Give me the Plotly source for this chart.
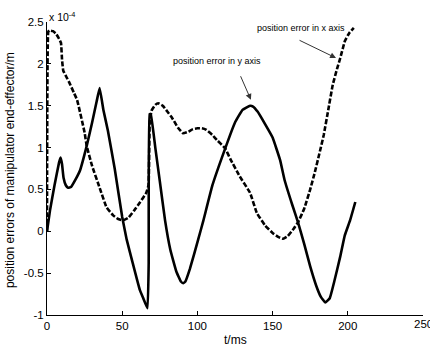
import plotly.graph_objects as go

# position error in x axis (dashed), units of 1e-4 m
t_x = [0, 0.8, 1.5, 4, 6, 8, 9.3, 10, 10.8, 13, 15, 18, 20, 25, 26.4, 30, 35, 39.5, 44, 47,
       50.5, 54, 58, 62, 66, 67.5, 68.3, 69.5, 72, 74, 77, 80, 83, 87, 90.5, 94, 97, 100,
       103, 106, 110, 113, 118.5, 122, 128, 135, 139.5, 145, 150, 154, 157, 160, 164, 167,
       171, 175, 178, 181, 184, 187, 190, 193, 195, 198, 201, 204]
e_x = [0, 2.38, 2.40, 2.39, 2.36, 2.30, 2.25, 2.05, 1.92, 1.84, 1.77, 1.65, 1.57, 1.18, 1.02,
       0.78, 0.52, 0.29, 0.19, 0.15, 0.13, 0.16, 0.25, 0.35, 0.46, 0.55, 1.30, 1.44, 1.51,
       1.53, 1.50, 1.43, 1.36, 1.24, 1.17, 1.19, 1.22, 1.23, 1.23, 1.21, 1.15, 1.09, 0.99,
       0.86, 0.66, 0.46, 0.22, 0.07, -0.02, -0.07, -0.09, -0.06, 0.03, 0.11, 0.27, 0.50,
       0.70, 0.92, 1.15, 1.45, 1.75, 1.95, 2.07, 2.27, 2.37, 2.43]

# position error in y axis (solid)
t_y = [0, 2, 5, 8, 9, 10, 11, 12.5, 14, 16, 19, 22, 26.4, 30, 33, 35, 37.5, 40.5, 45, 50,
       53, 57, 61.7, 64, 66.8, 67.6, 68.2, 69, 72, 75, 78.5, 82, 86, 89, 90.5, 92, 95,
       100.5, 104, 110, 118.5, 125, 130, 135, 137, 140, 145, 150, 155, 158, 163, 167, 171,
       175, 179, 182, 185, 188, 191, 195, 198, 201.5, 205]
e_y = [0, 0.25, 0.55, 0.82, 0.88, 0.80, 0.64, 0.55, 0.52, 0.53, 0.62, 0.73, 1.02, 1.30,
       1.55, 1.71, 1.45, 1.20, 0.75, 0.17, -0.10, -0.38, -0.70, -0.80, -0.92, -0.40, 1.40,
       1.40, 1.00, 0.60, 0.13, -0.22, -0.48, -0.60, -0.62, -0.60, -0.45, -0.10, 0.13, 0.55,
       0.99, 1.30, 1.45, 1.50, 1.49, 1.43, 1.28, 1.12, 0.85, 0.61, 0.32, 0.10, -0.15, -0.42,
       -0.65, -0.78, -0.85, -0.80, -0.60, -0.30, -0.05, 0.13, 0.35]

x_ticks = [0, 50, 100, 150, 200, 250]
x_tick_text = ["0", "50", "100", "150", "200", "250"]
y_ticks = [-1, -0.5, 0, 0.5, 1, 1.5, 2, 2.5]
y_tick_text = ["-1", "-0.5", "0", "0.5", "1", "1.5", "2", "2.5"]

FONT = "Liberation Sans, Arial, sans-serif"

fig = go.Figure()
fig.add_trace(go.Scatter(x=t_x, y=e_x, mode="lines",
                         line=dict(color="black", width=2.6, dash="5px,2px", shape="spline", smoothing=0.3)))
fig.add_trace(go.Scatter(x=t_y, y=e_y, mode="lines",
                         line=dict(color="black", width=2.6, shape="spline", smoothing=0.3)))

# last x tick label sits at the right edge and is drawn as an annotation so it can be cut off
shown_x_text = x_tick_text[:-1] + [""]

fig.update_layout(
    width=430, height=349,
    margin=dict(l=47, r=7, t=22, b=34),
    paper_bgcolor="white", plot_bgcolor="white",
    showlegend=False,
    font=dict(family=FONT, size=11, color="black"),
    xaxis=dict(range=[0, 250], tickvals=x_ticks, ticktext=shown_x_text, ticks="inside", ticklen=4,
               showgrid=False, zeroline=False, showline=True, linecolor="black",
               linewidth=1, tickcolor="black", tickfont=dict(size=11.5)),
    yaxis=dict(range=[-1, 2.5], tickvals=y_ticks, ticktext=y_tick_text, ticks="inside",
               ticklen=4, showgrid=False, zeroline=False, showline=True, linecolor="black",
               linewidth=1, tickcolor="black", tickfont=dict(size=11.5)),
    annotations=[
        dict(text=x_tick_text[-1], x=x_ticks[-1], xref="x", y=0, yref="paper",
             xanchor="center", yanchor="top", showarrow=False, font=dict(size=11.5), yshift=-1),
        dict(text="x 10<sup>-4</sup>", xref="paper", yref="paper", x=0.0, y=1.0,
             xanchor="left", yanchor="bottom", showarrow=False, font=dict(size=10.5), yshift=-3),
        dict(text="position errors of manipulator end-effector/m", xref="paper", yref="paper",
             x=-0.098, y=0.495, textangle=-90, showarrow=False, xanchor="center",
             yanchor="middle", font=dict(size=12)),
        dict(text="t/ms", xref="paper", yref="paper", x=0.5, y=-0.085, showarrow=False,
             xanchor="center", yanchor="middle", font=dict(size=12)),
        dict(text="position error in x axis", x=169, y=2.43, xref="x", yref="y",
             showarrow=False, font=dict(size=9)),
        dict(text="position error in y axis", x=113, y=2.04, xref="x", yref="y",
             showarrow=False, font=dict(size=9)),
        dict(text="", x=192.2, y=2.07, ax=166.9, ay=2.29, xref="x", yref="y",
             axref="x", ayref="y", showarrow=True, arrowhead=2, arrowsize=1.2,
             arrowwidth=1, arrowcolor="#333"),
        dict(text="", x=135.6, y=1.57, ax=128.3, ay=1.87, xref="x", yref="y",
             axref="x", ayref="y", showarrow=True, arrowhead=2, arrowsize=1.2,
             arrowwidth=1, arrowcolor="#333"),
    ],
)

fig.write_html(
    "out.html",
    config={"displayModeBar": False},
    post_script=(
        "document.body.style.margin='0';"
        "document.body.style.overflow='hidden';"
        "document.documentElement.style.overflow='hidden';"
    ),
)
